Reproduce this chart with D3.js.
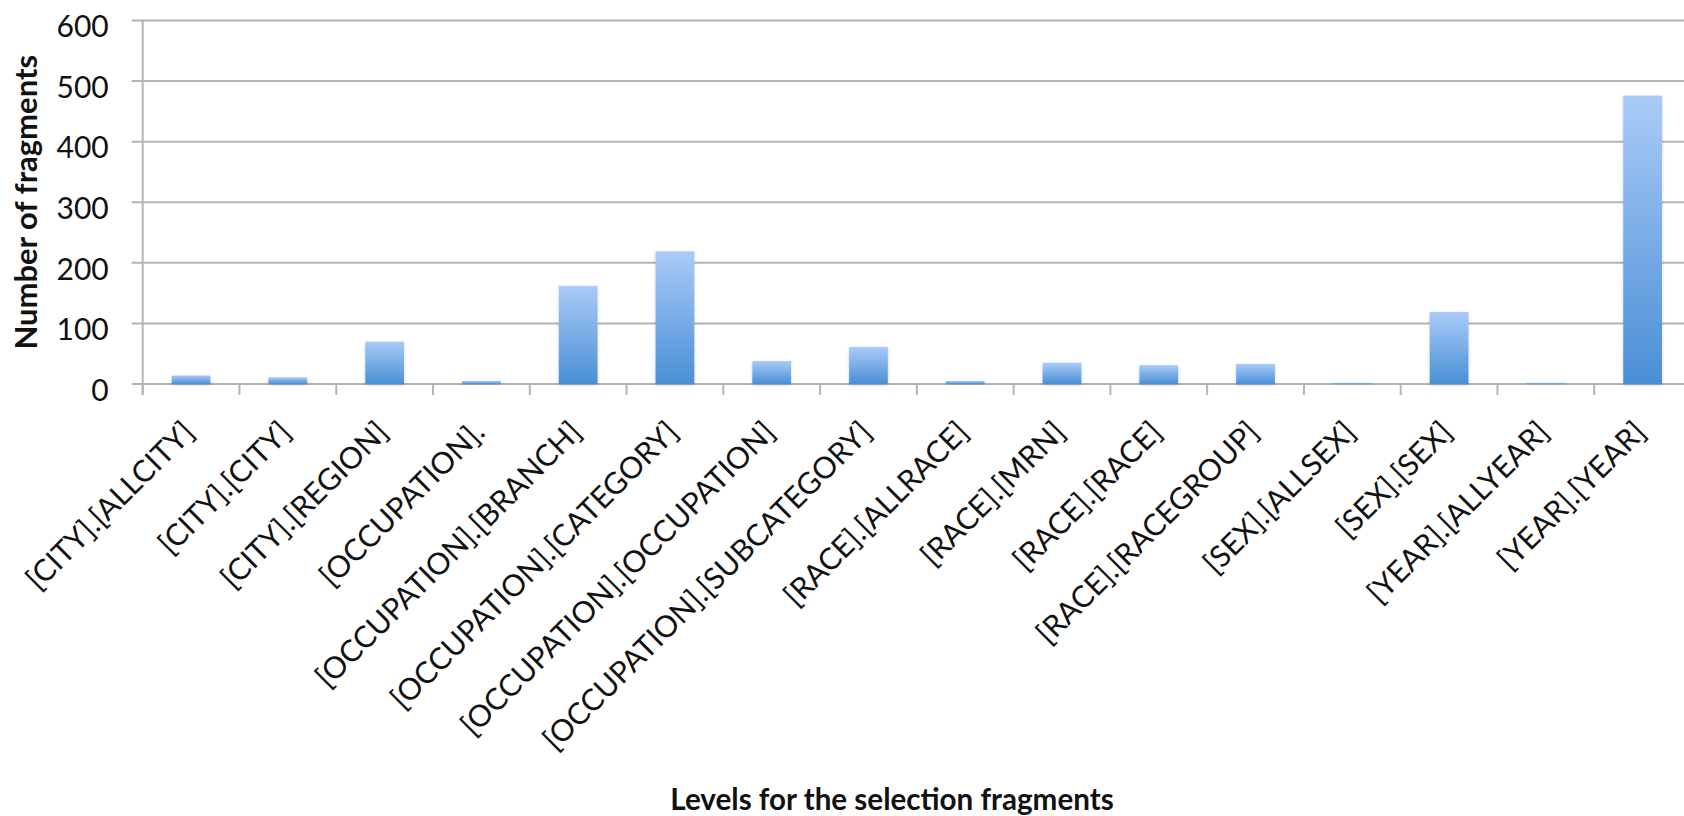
<!DOCTYPE html>
<html>
<head>
<meta charset="utf-8">
<script src="https://cdn.jsdelivr.net/npm/d3@7"></script>
<style>
  body { margin: 0; background: #fff; }
  svg { display: block; font-family: Lato, "Open Sans", sans-serif; }
  .grid line { stroke: #b4b4b4; stroke-width: 2; }
  .tick-lbl { font-size: 30px; fill: #111; }
  .title { font-size: 31px; font-weight: bold; fill: #111; }
</style>
</head>
<body>
<svg id="chart" width="1684" height="816"></svg>
<script>
// data
const categories = [
    "[CITY].[ALLCITY]", "[CITY].[CITY]", "[CITY].[REGION]", "[OCCUPATION].",
    "[OCCUPATION].[BRANCH]", "[OCCUPATION].[CATEGORY]", "[OCCUPATION].[OCCUPATION]",
    "[OCCUPATION].[SUBCATEGORY]", "[RACE].[ALLRACE]", "[RACE].[MRN]", "[RACE].[RACE]",
    "[RACE].[RACEGROUP]", "[SEX].[ALLSEX]", "[SEX].[SEX]", "[YEAR].[ALLYEAR]", "[YEAR].[YEAR]"
];
const counts = [14, 11, 70, 5, 162, 219, 38, 61, 5, 35, 31, 33, 2, 119, 2, 476];
const yTicks = [0, 100, 200, 300, 400, 500, 600];

const svg = d3.select("#chart");
const W = 1684;
const plotLeft = 142.7, plotRight = 1691, plotTop = 20.5, plotBottom = 384;

const x = d3.scaleBand().domain(categories).range([plotLeft, plotRight])
    .paddingInner(0.6).paddingOuter(0.3);
const y = d3.scaleLinear().domain([0, 600]).range([plotBottom, plotTop]);

// gradient + soft shadow for the bars
const defs = svg.append("defs");
const grad = defs.append("linearGradient").attr("id", "barGrad")
    .attr("x1", 0).attr("y1", 0).attr("x2", 0).attr("y2", 1);
grad.append("stop").attr("offset", "0%").attr("stop-color", "#a9cbf8");
grad.append("stop").attr("offset", "100%").attr("stop-color", "#4a8fd5");
const f = defs.append("filter").attr("id", "shadow")
    .attr("x", "-20%").attr("y", "-20%").attr("width", "140%").attr("height", "140%");
f.append("feDropShadow").attr("dx", 0).attr("dy", 1).attr("stdDeviation", 1.4)
    .attr("flood-color", "#000").attr("flood-opacity", 0.2);

// gridlines (with the little left ticks)
svg.append("g").attr("class", "grid")
    .selectAll("line").data(yTicks).enter().append("line")
    .attr("x1", plotLeft - 11).attr("x2", W)
    .attr("y1", d => y(d)).attr("y2", d => y(d));

// y axis
const yAxis = d3.axisLeft(y).tickValues(yTicks).tickSize(0).tickPadding(34);
const gy = svg.append("g").attr("transform", `translate(${plotLeft},0)`).call(yAxis);
gy.select(".domain").remove();
gy.attr("font-size", null).attr("font-family", null);
gy.selectAll("text").attr("class", "tick-lbl").attr("dy", "0.54em").attr("fill", "#111");

svg.append("line")
    .attr("x1", plotLeft).attr("x2", plotLeft).attr("y1", plotTop - 1).attr("y2", plotBottom + 11)
    .attr("stroke", "#b4b4b4").attr("stroke-width", 2);

// x ticks at the band edges
const edge = (x.step() - x.bandwidth()) / 2;
const edges = categories.map(c => x(c) - edge).concat([plotRight]);
svg.append("g").selectAll("line").data(edges).enter().append("line")
    .attr("x1", d => d).attr("x2", d => d)
    .attr("y1", plotBottom).attr("y2", plotBottom + 11)
    .attr("stroke", "#b4b4b4").attr("stroke-width", 2);

// bars
svg.append("g").selectAll("rect").data(counts).enter().append("rect")
    .attr("x", (d, i) => x(categories[i]))
    .attr("width", x.bandwidth())
    .attr("y", d => y(d))
    .attr("height", d => plotBottom - y(d))
    .attr("fill", "url(#barGrad)")
    .attr("filter", "url(#shadow)");

// rotated category labels
svg.append("g").selectAll("text").data(categories).enter().append("text")
    .attr("class", "tick-lbl")
    .attr("text-anchor", "end")
    .attr("transform", d => `translate(${x(d) + x.bandwidth() / 2 + 5},${plotBottom + 50}) rotate(-45)`)
    .text(d => d);

// axis titles
svg.append("text").attr("class", "title")
    .attr("text-anchor", "middle")
    .attr("transform", `translate(37,${(plotTop + plotBottom) / 2}) rotate(-90)`)
    .text("Number of fragments");

svg.append("text").attr("class", "title")
    .attr("text-anchor", "middle")
    .style("font-size", "29.6px")
    .attr("x", 892).attr("y", 810)
    .text("Levels for the selection fragments");
</script>
</body>
</html>
